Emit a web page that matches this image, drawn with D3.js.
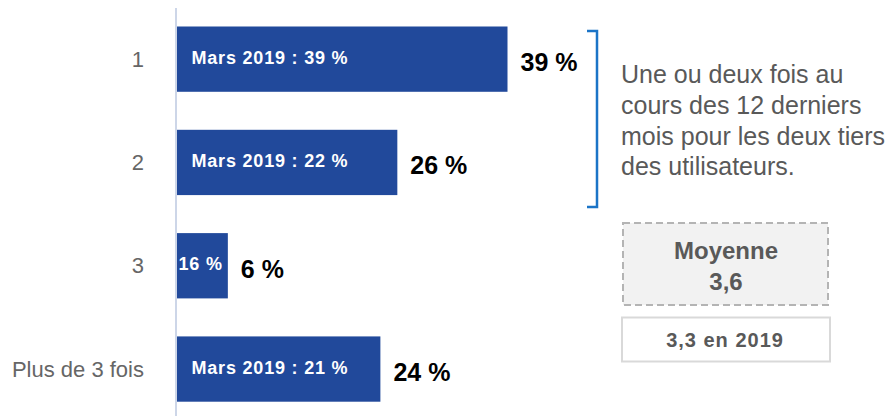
<!DOCTYPE html>
<html>
<head>
<meta charset="utf-8">
<script src="https://cdn.jsdelivr.net/npm/d3@7/dist/d3.min.js"></script>
<style>
  html, body { margin: 0; padding: 0; background: #ffffff; }
  svg { display: block; font-family: "Liberation Sans", Arial, Helvetica, sans-serif; }
</style>
</head>
<body>
<svg id="chart" width="894" height="416"></svg>
<script>
// Fréquence d'usage au cours des 12 derniers mois
const categories = ["1", "2", "3", "Plus de 3 fois"];
const values2021 = [39, 26, 6, 24];
const values2019 = [39, 22, 16, 21];
const noteLines = ["Une ou deux fois au", "cours des 12 derniers", "mois pour les deux tiers", "des utilisateurs."];
const meanLabel = "Moyenne";
const meanValue = "3,6";
const meanPrevious = "3,3 en 2019";

const svg = d3.select("#chart");
const barColor = "#21499b";

const x = d3.scaleLinear().domain([0, 39]).range([177, 507.5]);
const y = d3.scaleBand()
  .domain(categories)
  .range([7.9, 420.3])
  .paddingInner(0.368)
  .paddingOuter(0.18);

const fr = v => `${v} %`;

// vertical baseline axis
svg.append("line")
  .attr("x1", 176).attr("x2", 176)
  .attr("y1", 8).attr("y2", 416)
  .attr("stroke", "#cdd6e8").attr("stroke-width", 2);

// category labels
svg.append("g").selectAll("text")
  .data(categories)
  .join("text")
  .attr("x", 144)
  .attr("y", d => y(d) + y.bandwidth() / 2 + 7.5)
  .attr("text-anchor", "end")
  .attr("font-size", 22)
  .attr("fill", "#666666")
  .text(d => d);

// bars
const rows = categories.map((c, i) => ({ c, v: values2021[i], prev: values2019[i] }));
svg.append("g").selectAll("rect")
  .data(rows)
  .join("rect")
  .attr("x", x(0))
  .attr("y", d => y(d.c))
  .attr("width", d => x(d.v) - x(0))
  .attr("height", y.bandwidth())
  .attr("fill", barColor);

// 2019 reference inside each bar
svg.append("g").selectAll("text")
  .data(rows)
  .join("text")
  .each(function (d) {
    const narrow = x(d.v) - x(0) < 100;
    d3.select(this)
      .attr("x", x(0) + (narrow ? 1.5 : 14.5))
      .attr("y", y(d.c) + y.bandwidth() / 2 + 4.5)
      .text(narrow ? fr(d.prev) : `Mars 2019 : ${fr(d.prev)}`);
  })
  .attr("font-size", 18)
  .attr("font-weight", "bold")
  .attr("letter-spacing", 0.8)
  .attr("fill", "#ffffff");

// current values
svg.append("g").selectAll("text")
  .data(rows)
  .join("text")
  .attr("x", d => x(d.v) + 13)
  .attr("y", d => y(d.c) + y.bandwidth() / 2 + 12)
  .attr("font-size", 25)
  .attr("font-weight", "bold")
  .attr("fill", "#000000")
  .text(d => fr(d.v));

// bracket grouping the first two rows
const bTop = 31, bBot = 207, bX = 597;
svg.append("path")
  .attr("d", `M${bX - 10},${bTop} H${bX} V${bBot} H${bX - 10}`)
  .attr("fill", "none")
  .attr("stroke", "#1b74c7")
  .attr("stroke-width", 2.5);

svg.append("g").selectAll("text")
  .data(noteLines)
  .join("text")
  .attr("x", 621)
  .attr("y", (d, i) => 83 + i * 30.8)
  .attr("font-size", 25)
  .attr("fill", "#595959")
  .text(d => d);

// mean box
svg.append("rect")
  .attr("x", 623).attr("y", 223)
  .attr("width", 205).attr("height", 82)
  .attr("fill", "#f2f2f2")
  .attr("stroke", "#b4b4b4")
  .attr("stroke-width", 2)
  .attr("stroke-dasharray", "7,4");

svg.append("text")
  .attr("x", 726).attr("y", 259)
  .attr("text-anchor", "middle")
  .attr("font-size", 24).attr("font-weight", "bold")
  .attr("fill", "#595959")
  .text(meanLabel);
svg.append("text")
  .attr("x", 726).attr("y", 290)
  .attr("text-anchor", "middle")
  .attr("font-size", 24).attr("font-weight", "bold")
  .attr("fill", "#595959")
  .text(meanValue);

svg.append("rect")
  .attr("x", 622).attr("y", 317.5)
  .attr("width", 208).attr("height", 44)
  .attr("fill", "#ffffff")
  .attr("stroke", "#d9d9d9")
  .attr("stroke-width", 2);
svg.append("text")
  .attr("x", 725).attr("y", 347)
  .attr("text-anchor", "middle")
  .attr("font-size", 20).attr("font-weight", "bold")
  .attr("letter-spacing", 1)
  .attr("fill", "#595959")
  .text(meanPrevious);
</script>
</body>
</html>
